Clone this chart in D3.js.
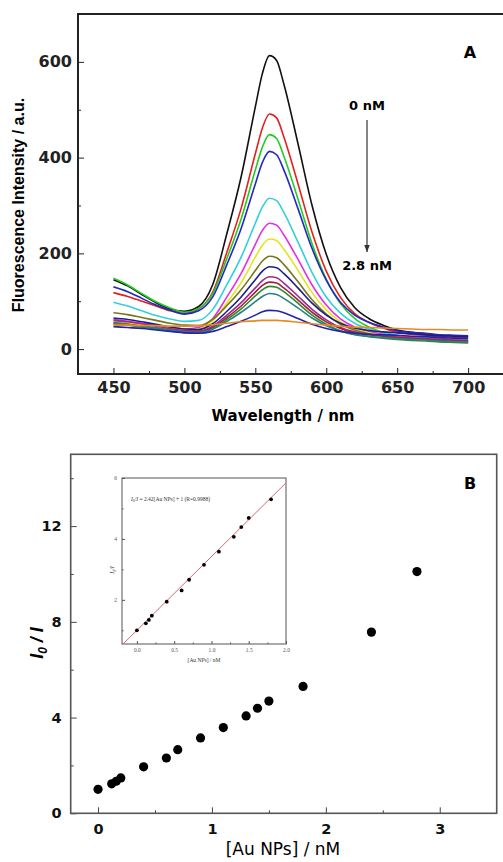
<!DOCTYPE html>
<html>
<head>
<meta charset="utf-8">
<script src="https://cdn.jsdelivr.net/npm/d3@7/dist/d3.min.js"></script>
<style>
  body { margin: 0; background: #fff; }
  svg { display: block; }
</style>
</head>
<body>
<svg id="chart" width="503" height="862"></svg>
<script>
// ---- data ----
const wavelengths = [450, 460, 470, 480, 490, 500, 510, 520, 530, 540, 550, 555, 560, 565, 570,
  580, 590, 600, 610, 620, 630, 640, 650, 660, 670, 680, 690, 700];

const concentrations = [0, 0.12, 0.16, 0.2, 0.4, 0.6, 0.7, 0.9, 1.1, 1.3, 1.4, 1.5, 1.8, 2.4, 2.8];

const curveColors = ['#111111', '#e5201c', '#22cc22', '#2327c4', '#33d0dc', '#e62ee0', '#e4e41a',
  '#76761a', '#1c1f86', '#a0288e', '#a02242', '#2f8a2f', '#2a7f7f', '#2424a8', '#e68a24'];

const spectra = [
  [145, 132, 114, 97, 84, 79, 89, 135, 242, 360, 506, 576, 613, 603, 555, 430, 300, 198, 129, 87, 64, 50, 40, 35, 32, 29, 28, 27],
  [118, 110, 100, 90, 80, 75, 84, 119, 203, 294, 408, 462, 491, 483, 444, 346, 244, 163, 108, 74, 56, 44, 35, 31, 29, 26, 25, 24],
  [148, 134, 116, 99, 86, 77, 85, 116, 190, 272, 374, 422, 448, 440, 404, 314, 220, 146, 95, 64, 46, 34, 25, 21, 19, 16, 15, 14],
  [130, 120, 106, 92, 81, 73, 80, 109, 177, 252, 345, 390, 413, 406, 375, 294, 210, 144, 98, 71, 56, 46, 38, 35, 33, 30, 29, 28],
  [98, 90, 80, 70, 63, 58, 60, 83, 135, 192, 263, 297, 315, 310, 286, 224, 160, 109, 75, 54, 42, 35, 29, 26, 24, 22, 21, 20],
  [62, 58, 54, 50, 45, 42, 45, 64, 109, 158, 219, 248, 263, 259, 239, 188, 134, 92, 63, 46, 37, 31, 27, 24, 22, 20, 19, 18],
  [58, 55, 51, 47, 43, 40, 42, 59, 97, 139, 192, 217, 230, 227, 209, 165, 118, 82, 57, 42, 34, 29, 25, 23, 21, 19, 18, 17],
  [76, 72, 66, 60, 54, 50, 49, 62, 91, 124, 164, 184, 194, 191, 177, 141, 103, 73, 52, 40, 32, 28, 24, 22, 20, 18, 17, 16],
  [65, 62, 57, 52, 46, 42, 41, 53, 79, 109, 145, 163, 172, 170, 158, 128, 96, 71, 54, 44, 39, 36, 34, 32, 30, 28, 27, 26],
  [60, 57, 53, 48, 43, 39, 38, 48, 71, 97, 128, 143, 151, 149, 138, 111, 83, 61, 45, 36, 31, 28, 25, 23, 22, 20, 19, 18],
  [55, 52, 48, 44, 40, 37, 36, 45, 66, 90, 119, 133, 140, 138, 128, 103, 77, 57, 43, 34, 30, 27, 24, 22, 21, 19, 18, 17],
  [52, 50, 46, 42, 38, 35, 34, 42, 62, 84, 111, 124, 131, 129, 120, 96, 71, 52, 38, 30, 26, 23, 20, 18, 17, 15, 14, 13],
  [55, 52, 48, 44, 40, 36, 35, 42, 58, 77, 99, 110, 116, 114, 106, 86, 65, 49, 38, 31, 27, 24, 22, 20, 19, 17, 16, 15],
  [47, 45, 43, 40, 37, 34, 33, 37, 47, 58, 71, 78, 81, 80, 76, 64, 52, 43, 37, 33, 31, 30, 29, 27, 26, 24, 23, 22],
  [50, 50, 49, 49, 48, 48, 49, 51, 54, 57, 59, 60, 60, 60, 59, 56, 53, 50, 48, 46, 45, 44, 43, 42, 41, 41, 40, 40]
];

// I0/I for each concentration (panel B)
const ratios = [1.0, 1.23, 1.34, 1.48, 1.94, 2.31, 2.66, 3.15, 3.58, 4.07, 4.39, 4.69, 5.30, 7.57, 10.1];
const insetMaxConc = 1.8;
const fitSlope = 2.42, fitIntercept = 1.0;

const xTicksA = [450, 500, 550, 600, 650, 700];
const xMinorA = [475, 525, 575, 625, 675];
const yTicksA = [0, 200, 400, 600];
const yMinorA = [100, 300, 500];
const xTicksB = [0, 1, 2, 3];
const xMinorB = [0.5, 1.5, 2.5];
const yTicksB = [0, 4, 8, 12];
const yMinorB = [2, 6, 10, 14];
const xTicksInset = [0, 0.5, 1, 1.5, 2];
const xMinorInset = [0.25, 0.75, 1.25, 1.75];
const yTicksInset = [2, 4, 6];
const yMinorInset = [1, 3, 5];

const boldFont = 'DejaVu Sans, sans-serif';
const intFmt = d3.format('d');
const svg = d3.select('#chart');
svg.append('rect').attr('width', 503).attr('height', 862).attr('fill', '#fff');

function noDomain(g) { g.select('.domain').remove(); }

// ================= panel A =================
const xA = d3.scaleLinear().domain([425, 726]).range([78, 505]);
const yA = d3.scaleLinear().domain([-52, 700]).range([374, 14]);

const line = d3.line()
  .x((d, i) => xA(wavelengths[i]))
  .y(d => yA(d))
  .curve(d3.curveMonotoneX);

svg.append('g')
  .selectAll('path')
  .data(spectra)
  .enter()
  .append('path')
  .attr('d', d => line(d))
  .attr('fill', 'none')
  .attr('stroke', (d, i) => curveColors[i])
  .attr('stroke-width', 1.6);

svg.append('g').attr('transform', 'translate(0,374)').attr('color', '#222')
  .call(d3.axisBottom(xA).tickValues(xMinorA).tickSize(-3).tickFormat(''))
  .call(noDomain);
svg.append('g').attr('transform', 'translate(0,374)').attr('color', '#222')
  .call(d3.axisBottom(xA).tickValues(xTicksA).tickSize(-6).tickPadding(8).tickFormat(intFmt))
  .call(noDomain)
  .attr('font-family', boldFont).attr('font-size', 16).attr('font-weight', 'bold');

svg.append('g').attr('transform', 'translate(78,0)').attr('color', '#222')
  .call(d3.axisLeft(yA).tickValues(yMinorA).tickSize(-3).tickFormat(''))
  .call(noDomain);
svg.append('g').attr('transform', 'translate(78,0)').attr('color', '#222')
  .call(d3.axisLeft(yA).tickValues(yTicksA).tickSize(-6).tickPadding(6).tickFormat(intFmt))
  .call(noDomain)
  .attr('font-family', boldFont).attr('font-size', 16).attr('font-weight', 'bold');

svg.append('rect')
  .attr('x', 78).attr('y', 14).attr('width', 427).attr('height', 360)
  .attr('fill', 'none').attr('stroke', '#222').attr('stroke-width', 2);

svg.append('text')
  .attr('transform', 'translate(18,205) rotate(-90)')
  .attr('text-anchor', 'middle').attr('dy', '0.35em')
  .attr('font-family', 'Liberation Sans, Arial, sans-serif').attr('font-size', 16).attr('font-weight', 'bold')
  .text('Fluorescence Intensity / a.u.');

svg.append('text')
  .attr('x', 283).attr('y', 421).attr('text-anchor', 'middle')
  .attr('font-family', boldFont).attr('font-size', 15).attr('font-weight', 'bold')
  .text('Wavelength / nm');

svg.append('text')
  .attr('x', 470).attr('y', 57.5).attr('text-anchor', 'middle')
  .attr('font-family', boldFont).attr('font-size', 16).attr('font-weight', 'bold')
  .text('A');

svg.append('defs').append('marker')
  .attr('id', 'arrowhead')
  .attr('viewBox', '0 0 10 10').attr('refX', 10).attr('refY', 5)
  .attr('markerWidth', 6).attr('markerHeight', 6).attr('orient', 'auto')
  .append('path').attr('d', 'M0,1 L10,5 L0,9 Z').attr('fill', '#333');

svg.append('line')
  .attr('x1', 367).attr('x2', 367).attr('y1', 120).attr('y2', 252)
  .attr('stroke', '#333').attr('stroke-width', 1.2)
  .attr('marker-end', 'url(#arrowhead)');

svg.append('text')
  .attr('x', 367).attr('y', 110).attr('text-anchor', 'middle')
  .attr('font-family', boldFont).attr('font-size', 13).attr('font-weight', 'bold')
  .text(concentrations[0] + ' nM');
svg.append('text')
  .attr('x', 367).attr('y', 270).attr('text-anchor', 'middle')
  .attr('font-family', boldFont).attr('font-size', 13).attr('font-weight', 'bold')
  .text(concentrations[concentrations.length - 1] + ' nM');

// ================= panel B =================
const xB = d3.scaleLinear().domain([-0.24, 3.5]).range([70.7, 496.7]);
const yB = d3.scaleLinear().domain([0, 15]).range([813.3, 454.3]);
const points = concentrations.map((c, i) => ({ c: c, r: ratios[i] }));

svg.append('g').attr('transform', 'translate(0,813.3)').attr('color', '#444')
  .call(d3.axisBottom(xB).tickValues(xMinorB).tickSize(-3).tickFormat(''))
  .call(noDomain);
svg.append('g').attr('transform', 'translate(0,813.3)').attr('color', '#444')
  .call(d3.axisBottom(xB).tickValues(xTicksB).tickSize(-6).tickPadding(10).tickFormat(intFmt))
  .call(noDomain)
  .attr('font-family', boldFont).attr('font-size', 14.5).attr('font-weight', 'bold')
  .selectAll('text').attr('fill', '#111');

svg.append('g').attr('transform', 'translate(70.7,0)').attr('color', '#444')
  .call(d3.axisLeft(yB).tickValues(yMinorB).tickSize(-3).tickFormat(''))
  .call(noDomain);
svg.append('g').attr('transform', 'translate(70.7,0)').attr('color', '#444')
  .call(d3.axisLeft(yB).tickValues(yTicksB).tickSize(-6).tickPadding(9).tickFormat(intFmt))
  .call(noDomain)
  .attr('font-family', boldFont).attr('font-size', 14.5).attr('font-weight', 'bold')
  .selectAll('text').attr('fill', '#111');

svg.append('rect')
  .attr('x', 70.7).attr('y', 454.3).attr('width', 426).attr('height', 359)
  .attr('fill', 'none').attr('stroke', '#555').attr('stroke-width', 1.6);

svg.append('g')
  .selectAll('circle')
  .data(points)
  .enter()
  .append('circle')
  .attr('cx', d => xB(d.c))
  .attr('cy', d => yB(d.r))
  .attr('r', 4.6)
  .attr('fill', '#000');

const yLabB = svg.append('text')
  .attr('transform', 'translate(37,643) rotate(-90)')
  .attr('text-anchor', 'middle').attr('dy', '0.35em')
  .attr('font-family', 'Liberation Sans, Arial, sans-serif').attr('font-size', 18)
  .attr('font-weight', 'bold').attr('font-style', 'italic');
yLabB.append('tspan').text('I');
yLabB.append('tspan').attr('font-size', 12).attr('dy', 4).text('0');
yLabB.append('tspan').attr('dy', -4).text(' / I');

svg.append('text')
  .attr('x', 283).attr('y', 855).attr('text-anchor', 'middle')
  .attr('font-family', boldFont).attr('font-size', 17)
  .text('[Au NPs] / nM');

svg.append('text')
  .attr('x', 470).attr('y', 488.5).attr('text-anchor', 'middle')
  .attr('font-family', boldFont).attr('font-size', 16).attr('font-weight', 'bold')
  .text('B');

// ---- inset ----
const xI = d3.scaleLinear().domain([-0.2, 2.0]).range([122, 286]);
const yI = d3.scaleLinear().domain([0.55, 6]).range([644, 478]);
const insetFont = 'Liberation Serif, Times New Roman, serif';
const inset = svg.append('g');

inset.append('rect')
  .attr('x', 122).attr('y', 478).attr('width', 164).attr('height', 166)
  .attr('fill', '#fff').attr('stroke', '#555').attr('stroke-width', 1);

inset.append('clipPath').attr('id', 'insetClip')
  .append('rect').attr('x', 122).attr('y', 478).attr('width', 164).attr('height', 166);

inset.append('path')
  .datum(xI.domain())
  .attr('clip-path', 'url(#insetClip)')
  .attr('d', d3.line().x(d => xI(d)).y(d => yI(fitSlope * d + fitIntercept)))
  .attr('stroke', '#d06a78').attr('stroke-width', 1).attr('fill', 'none');

inset.append('g')
  .selectAll('circle')
  .data(points.filter(d => d.c <= insetMaxConc))
  .enter()
  .append('circle')
  .attr('cx', d => xI(d.c))
  .attr('cy', d => yI(d.r))
  .attr('r', 1.9)
  .attr('fill', '#000');

inset.append('g').attr('transform', 'translate(0,644)').attr('color', '#555')
  .call(d3.axisBottom(xI).tickValues(xMinorInset).tickSize(-1.5).tickFormat(''))
  .call(noDomain);
inset.append('g').attr('transform', 'translate(0,644)').attr('color', '#555')
  .call(d3.axisBottom(xI).tickValues(xTicksInset).tickSize(-3).tickPadding(4).tickFormat(d3.format('.1f')))
  .call(noDomain)
  .attr('font-family', insetFont).attr('font-size', 5.5);
inset.append('g').attr('transform', 'translate(122,0)').attr('color', '#555')
  .call(d3.axisLeft(yI).tickValues(yMinorInset).tickSize(-1.5).tickFormat(''))
  .call(noDomain);
inset.append('g').attr('transform', 'translate(122,0)').attr('color', '#555')
  .call(d3.axisLeft(yI).tickValues(yTicksInset).tickSize(-3).tickPadding(5).tickFormat(intFmt))
  .call(noDomain)
  .attr('font-family', insetFont).attr('font-size', 5.5);

inset.append('text')
  .attr('x', 204).attr('y', 662).attr('text-anchor', 'middle')
  .attr('font-family', insetFont).attr('font-size', 5.5).attr('fill', '#333')
  .text('[Au NPs] / nM');

const yLabI = inset.append('text')
  .attr('transform', 'translate(112,570) rotate(-90)')
  .attr('text-anchor', 'middle').attr('dy', '0.35em')
  .attr('font-family', insetFont).attr('font-size', 6).attr('font-style', 'italic').attr('fill', '#333');
yLabI.append('tspan').text('I');
yLabI.append('tspan').attr('font-size', 4).attr('dy', 1.5).text('0');
yLabI.append('tspan').attr('dy', -1.5).text('/I');

const eq = inset.append('text')
  .attr('x', 131).attr('y', 501)
  .attr('font-family', insetFont).attr('font-size', 5.5).attr('fill', '#333');
eq.append('tspan').attr('font-style', 'italic').text('I');
eq.append('tspan').attr('font-size', 3.8).attr('dy', 1.2).text('0');
eq.append('tspan').attr('dy', -1.2).text('/');
eq.append('tspan').attr('font-style', 'italic').text('I');
eq.append('tspan').text(' = ' + fitSlope + '[Au NPs] + ' + fitIntercept.toFixed(0) + ' (R=0.9988)');
</script>
</body>
</html>
